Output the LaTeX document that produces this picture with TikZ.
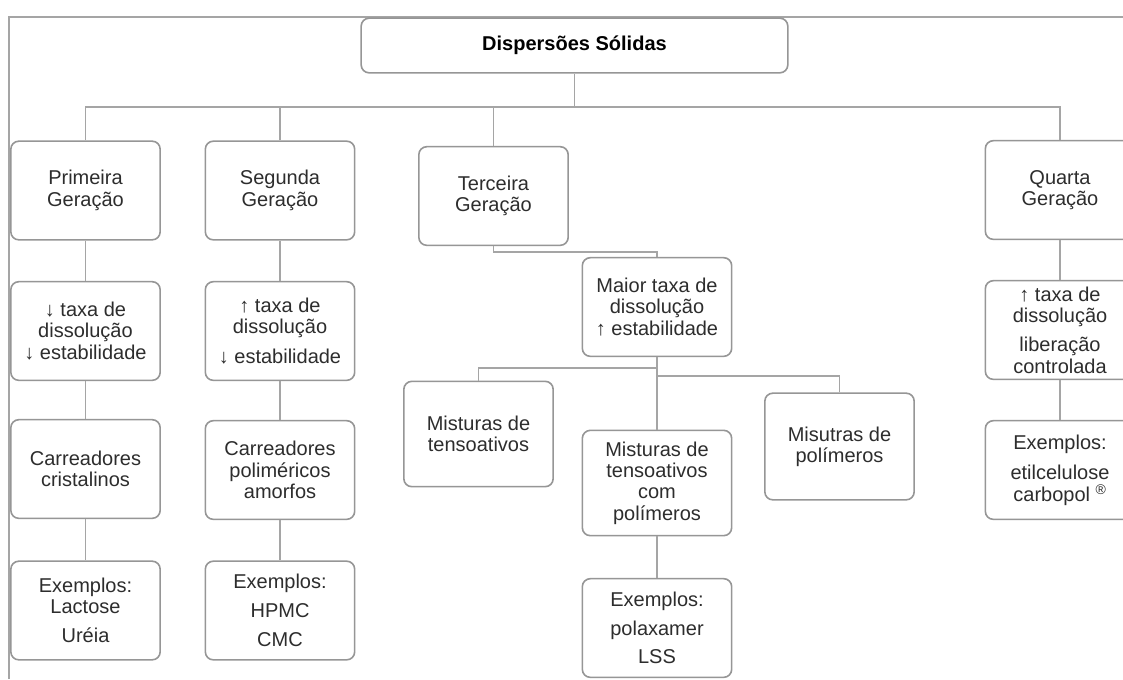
\documentclass[tikz,border=0pt]{standalone}
\usepackage{fontspec}
\setmainfont{Liberation Sans}
\usepackage{xcolor}
\usepackage{tikz}
\usetikzlibrary{positioning, calc}

\definecolor{boxline}{RGB}{150,150,150}
\definecolor{connline}{RGB}{165,165,165}
\definecolor{boxtext}{RGB}{45,45,45}

\begin{document}
\begin{tikzpicture}[x=0.75pt, y=-0.75pt, font=\fontsize{15}{16}\selectfont,
    gen/.style={draw=boxline, line width=1.2pt, rounded corners=6pt, fill=white,
      text=boxtext, align=center, inner sep=2pt, minimum width=112pt, minimum height=74pt},
    conn/.style={draw=connline, line width=1.1pt}]
  \useasboundingbox (0,0) rectangle (1123,679);
  \fill[white] (0,0) rectangle (1123,679);
  \clip (0,0) rectangle (1123,679);

  % Frame
  \coordinate (framebl) at (9,679);
  \coordinate (frametl) at (9,17);
  \coordinate (frametr) at (1123,17);
  \draw[conn] (framebl) -- (frametl) -- (frametr);

  % Title
  \node[gen, minimum width=320pt, minimum height=41pt, text=black,
    font=\fontsize{15}{16}\selectfont\bfseries] (disp) at (574.5,45.5) {Dispersões Sólidas};

  % Generations
  \node[gen] (prim) at (85.5,190.5) {Primeira\\Geração};
  \node[gen] (seg) at (280,190.5) {Segunda\\Geração};
  \node[gen] (terc) at (493.5,196) {Terceira\\Geração};
  \node[gen] (quar) at (1060,190) {Quarta\\Geração};

  % Properties
  \node[gen] (prim2) at (85.5,331) {↓ taxa de\\dissolução\\↓ estabilidade};
  \node[gen] (seg2) at (280,331) {↑ taxa de\\dissolução\\[6pt]↓ estabilidade};
  \node[gen] (maior) at (657,307) {Maior taxa de\\dissolução\\↑ estabilidade};
  \node[gen] (quar2) at (1060,330) {↑ taxa de\\dissolução\\[6pt]liberação\\controlada};

  % Carriers
  \node[gen] (prim3) at (85.5,469) {Carreadores\\cristalinos};
  \node[gen] (seg3) at (280,470) {Carreadores\\poliméricos\\amorfos};
  \node[gen, minimum height=79pt] (mist1) at (478.5,434) {Misturas de\\tensoativos};
  \node[gen, minimum height=79pt] (mist2) at (657,483) {Misturas de\\tensoativos\\com\\polímeros};
  \node[gen, minimum height=80pt] (mist3) at (839.5,446.5) {Misutras de\\polímeros};
  \node[gen] (quar3) at (1060,470) {Exemplos:\\[7pt]etilcelulose\\carbopol \textsuperscript{®}};

  % Examples
  \node[gen] (prim4) at (85.5,610.5) {Exemplos:\\Lactose\\[6pt]Uréia};
  \node[gen] (seg4) at (280,610.5) {Exemplos:\\[6pt]HPMC\\[6pt]CMC};
  \node[gen] (mist4) at (657,628) {Exemplos:\\[6pt]polaxamer\\[5pt]LSS};

  % Connectors
  \coordinate (bus1) at (574.5,107);
  \draw[conn] (disp.south) -- (bus1);
  \draw[conn] (prim.north) |- (bus1) -| (quar.north);
  \draw[conn] (seg.north) -- (seg.north |- bus1);
  \draw[conn] (terc.north) -- (terc.north |- bus1);
  \draw[conn] (terc.south) -- ++(0,6) -| (maior.north);
  \foreach \a/\b in {prim/prim2, prim2/prim3, prim3/prim4, seg/seg2, seg2/seg3, seg3/seg4,
      quar/quar2, quar2/quar3, maior/mist2, mist2/mist4}
    \draw[conn] (\a) -- (\b);
  \coordinate (bus3a) at (657,368);
  \coordinate (bus3b) at (657,376);
  \draw[conn] (bus3a) -| (mist1.north);
  \draw[conn] (bus3b) -| (mist3.north);
\end{tikzpicture}
\end{document}
